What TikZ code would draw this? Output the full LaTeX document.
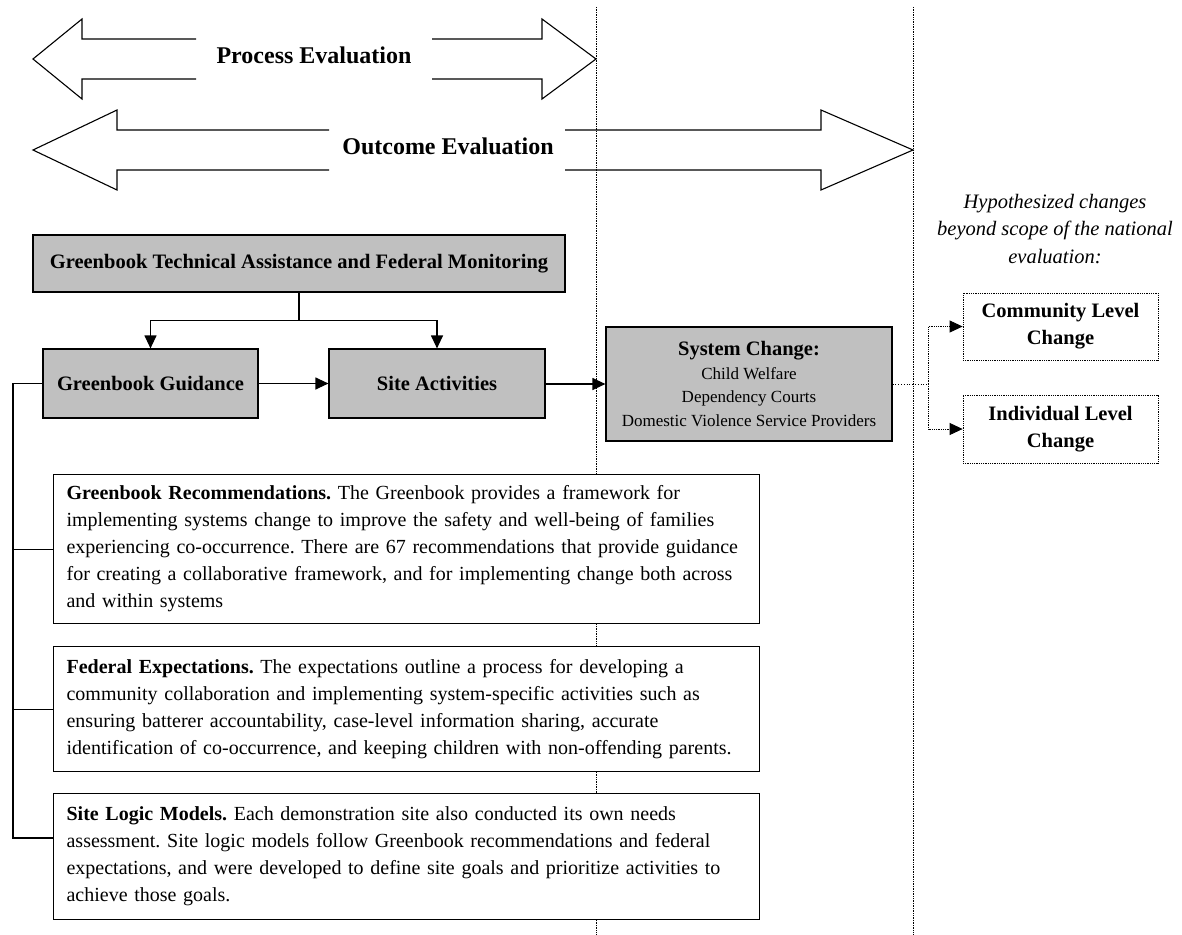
\documentclass[tikz,border=0pt]{standalone}
\usepackage{fontspec}
\setmainfont{Liberation Serif}
\usetikzlibrary{arrows.meta,positioning,calc}
\definecolor{boxgray}{RGB}{192,192,192}

\begin{document}
\begin{tikzpicture}[x=1pt,y=-1pt,>={Triangle[length=13pt,width=12pt]},
  vline/.style={densely dotted, line width=0.7pt},
  outline/.style={line width=1.1pt, line join=miter},
  graybox/.style={draw, fill=boxgray, line width=1.2pt, inner sep=0pt, font=\fontsize{20.5}{27}\selectfont\bfseries},
  hypbox/.style={draw, densely dotted, line width=0.8pt, inner sep=0pt, align=center, minimum width=195pt, font=\fontsize{20.5}{27}\selectfont\bfseries},
  textbox/.style={draw, fill=white, line width=1.2pt, anchor=north west, text width=680pt, inner xsep=13pt, inner ysep=0pt, align=left, font=\fontsize{20}{27}\selectfont\frenchspacing},
  title/.style={font=\fontsize{24}{28}\selectfont\bfseries, inner sep=0pt},
  link/.style={->, line width=1.2pt},
  dotlink/.style={->, densely dotted, line width=0.8pt}]
  \useasboundingbox (0,0) rectangle (1182,934);
  \def\lx{596}
  \def\rx{913}
  % scope lines
  \draw[vline] (\lx,7) -- (\lx,934);
  \draw[vline] (\rx,7) -- (\rx,934);
  % process evaluation
  \node[title] (proc) at (314,55) {Process Evaluation};
  \draw[outline] (196,39) -- (82,39) -- (82,19) -- (33,59) -- (82,99) -- (82,79) -- (196,79);
  \draw[outline] (432,39) -- (542,39) -- (542,19) -- (\lx,59) -- (542,99) -- (542,79) -- (432,79);
  % outcome evaluation
  \node[title] (outc) at (448,146) {Outcome Evaluation};
  \draw[outline] (329,130) -- (117,130) -- (117,110) -- (33,150) -- (117,190) -- (117,170) -- (329,170);
  \draw[outline] (565,130) -- (821,130) -- (821,110) -- (\rx,150) -- (821,190) -- (821,170) -- (565,170);
  % boxes
  \node[graybox, minimum width=532pt, minimum height=57pt] (tam) at (299,263.5)
    {Greenbook Technical Assistance and Federal Monitoring};
  \node[graybox, minimum width=215pt, minimum height=69pt] (guide) at (150.5,383.5) {Greenbook Guidance};
  \node[graybox, minimum width=216pt, minimum height=69pt] (site) at (437,383.5) {Site Activities};
  \node[graybox, minimum width=286pt, minimum height=114pt, align=center,
    font=\fontsize{17}{23.5}\selectfont] (sys) at (749,384)
    {{\fontsize{20.5}{23.5}\selectfont\bfseries System Change:}\\Child Welfare\\Dependency Courts\\Domestic Violence Service Providers};
  \node[hypbox, minimum height=67pt] (comm) at (1060.5,326.5) {Community Level\\Change};
  \node[hypbox, minimum height=68pt] (indiv) at (1060.5,429) {Individual Level\\Change};
  \node[font=\fontsize{20.5}{27.5}\selectfont\itshape, align=center] (hyp) at (1055,229)
    {Hypothesized changes\\beyond scope of the national\\evaluation:};
  % text boxes
  \node[textbox, minimum height=149pt] (rec) at (53,474)
    {\textbf{Greenbook Recommendations.} The Greenbook provides a framework for\\
     implementing systems change to improve the safety and well-being of families\\
     experiencing co-occurrence. There are 67 recommendations that provide guidance\\
     for creating a collaborative framework, and for implementing change both across\\
     and within systems};
  \node[textbox, minimum height=125pt] (fed) at (53,646)
    {\textbf{Federal Expectations.} The expectations outline a process for developing a\\
     community collaboration and implementing system-specific activities such as\\
     ensuring batterer accountability, case-level information sharing, accurate\\
     identification of co-occurrence, and keeping children with non-offending parents.};
  \node[textbox, minimum height=126pt] (slm) at (53,793)
    {\textbf{Site Logic Models.} Each demonstration site also conducted its own needs\\
     assessment. Site logic models follow Greenbook recommendations and federal\\
     expectations, and were developed to define site goals and prioritize activities to\\
     achieve those goals.};
  % connectors
  \draw[line width=1.2pt] (tam.south) -- ++(0,28) coordinate (fork);
  \draw[link] (fork) -| (guide.north);
  \draw[link] (fork) -| (site.north);
  \draw[link] (guide.east) -- (site.west);
  \draw[link] (site.east |- sys.west) -- (sys.west);
  \draw[dotted, line width=0.8pt] (sys.east) -- ++(36,0) coordinate (split);
  \draw[dotlink] (split) |- (comm.west);
  \draw[dotlink] (split) |- (indiv.west);
  % bracket to text boxes
  \coordinate (brk) at (13,838);
  \draw[line width=1.2pt] (guide.west) -| (brk) -- (brk -| slm.west);
  \draw[line width=1.2pt] (rec.west) -- (rec.west -| brk);
  \draw[line width=1.2pt] (fed.west) -- (fed.west -| brk);
\end{tikzpicture}
\end{document}
